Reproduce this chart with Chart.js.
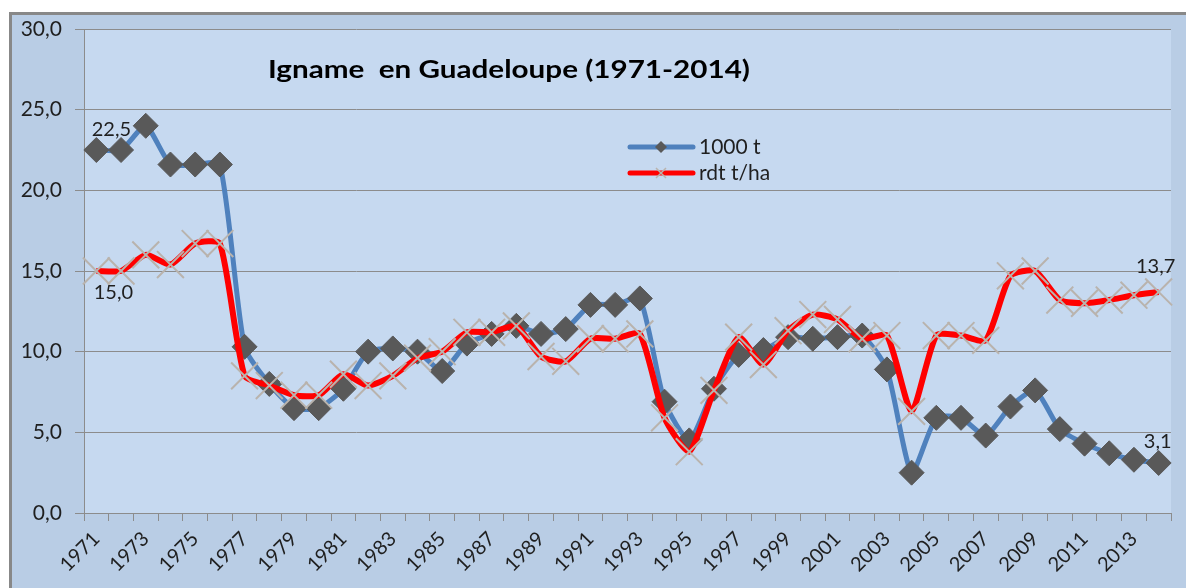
<!DOCTYPE html>
<html lang="fr">
<head>
<meta charset="UTF-8">
<title>Igname en Guadeloupe (1971-2014)</title>
<script src="https://cdn.jsdelivr.net/npm/chart.js@4.4.1/dist/chart.umd.min.js"></script>
<style>
  html, body { margin: 0; padding: 0; background: #ffffff; }
  #wrap { width: 1186px; height: 588px; }
</style>
</head>
<body>
<div id="wrap"><canvas id="yamChart" width="1186" height="588"></canvas></div>
<script>
// years (categories)
var years = ['1971','1972','1973','1974','1975','1976','1977','1978','1979','1980',
             '1981','1982','1983','1984','1985','1986','1987','1988','1989','1990',
             '1991','1992','1993','1994','1995','1996','1997','1998','1999','2000',
             '2001','2002','2003','2004','2005','2006','2007','2008','2009','2010',
             '2011','2012','2013','2014'];

// production, 1000 t
var tonnes = [22.5, 22.5, 24.0, 21.6, 21.6, 21.6, 10.3, 8.0, 6.5, 6.5,
              7.7, 10.0, 10.2, 10.0, 8.8, 10.5, 11.1, 11.6, 11.1, 11.4,
              12.9, 12.9, 13.3, 6.9, 4.5, 7.7, 9.8, 10.1, 10.9, 10.8,
              10.9, 11.0, 8.9, 2.5, 5.9, 5.9, 4.8, 6.6, 7.6, 5.2,
              4.3, 3.7, 3.3, 3.1];

// yield, t/ha
var yields = [15.0, 15.0, 16.0, 15.4, 16.7, 16.7, 8.5, 7.9, 7.3, 7.3,
              8.6, 7.9, 8.5, 9.6, 10.0, 11.2, 11.2, 11.6, 9.7, 9.4,
              10.8, 10.8, 11.1, 5.9, 3.8, 7.6, 10.9, 9.2, 11.3, 12.3,
              12.0, 10.8, 11.0, 6.3, 11.0, 11.0, 10.7, 14.7, 15.0, 13.2,
              13.0, 13.2, 13.5, 13.7];

var yTicks = [0, 5, 10, 15, 20, 25, 30];
var seriesNames = ['1000 t', 'rdt t/ha'];
var chartTitle = 'Igname  en Guadeloupe (1971-2014)';

function frNum(v) { return v.toFixed(1).replace('.', ','); }

var FONT = 'Lato, "Open Sans", sans-serif';
var GRID = '#8c8c8c';
var TEXT = '#1f1f1f';

var backgroundPlugin = {
    id: 'bg',
    beforeDraw: function(chart) {
        var c = chart.ctx, a = chart.chartArea;
        c.save();
        c.fillStyle = '#ffffff';
        c.fillRect(0, 0, chart.width, chart.height);
        c.fillStyle = '#b9cde5';
        c.fillRect(10, 12, chart.width - 10, chart.height - 12);
        c.fillStyle = '#888888';
        c.fillRect(9, 12, chart.width - 9, 3);
        c.fillRect(9, 12, 3, chart.height - 12);
        c.fillStyle = '#c6d9f0';
        c.fillRect(a.left, a.top, a.right - a.left, a.bottom - a.top);
        c.restore();
    }
};

// title, legend and value labels drawn inside the plot
var overlayPlugin = {
    id: 'overlay',
    afterDatasetsDraw: function(chart) {
        var c = chart.ctx;
        var xs = chart.scales.x, ys = chart.scales.y;
        c.save();

        // title, stretched a little to the width of the original
        c.fillStyle = '#000000';
        c.font = 'bold 25px ' + FONT;
        c.textBaseline = 'alphabetic';
        c.textAlign = 'left';
        var tw = c.measureText(chartTitle).width;
        c.save();
        c.translate(268, 78);
        c.scale(482 / tw, 1);
        c.fillText(chartTitle, 0, 0);
        c.restore();

        // legend
        c.lineCap = 'round';
        c.lineWidth = 5;
        c.strokeStyle = '#4f81bd';
        c.beginPath(); c.moveTo(630, 147); c.lineTo(693, 147); c.stroke();
        c.fillStyle = '#595959';
        c.beginPath();
        c.moveTo(655, 147); c.lineTo(661, 141); c.lineTo(667, 147); c.lineTo(661, 153);
        c.closePath(); c.fill();
        c.strokeStyle = '#ff0000';
        c.beginPath(); c.moveTo(630, 173); c.lineTo(693, 173); c.stroke();
        c.lineCap = 'butt';
        c.lineWidth = 1.5;
        c.strokeStyle = '#b9b3ad';
        c.beginPath();
        c.moveTo(656, 168); c.lineTo(666, 178);
        c.moveTo(666, 168); c.lineTo(656, 178);
        c.stroke();
        c.fillStyle = TEXT;
        c.font = '21px ' + FONT;
        c.textBaseline = 'middle';
        c.fillText(seriesNames[0], 699, 147);
        c.fillText(seriesNames[1], 699, 173);

        // value labels at first and last points
        var last = years.length - 1;
        c.textAlign = 'center';
        c.font = '20px ' + FONT;
        c.fillText(frNum(tonnes[0]), xs.getPixelForValue(0) + 15, ys.getPixelForValue(tonnes[0]) - 20);
        c.fillText(frNum(yields[0]), xs.getPixelForValue(0) + 17, ys.getPixelForValue(yields[0]) + 22);
        c.fillText(frNum(yields[last]), xs.getPixelForValue(last) - 3, ys.getPixelForValue(yields[last]) - 25);
        c.fillText(frNum(tonnes[last]), xs.getPixelForValue(last) - 1, ys.getPixelForValue(tonnes[last]) - 21);
        c.restore();
    }
};

var ctx = document.getElementById('yamChart');
var yamChart = new Chart(ctx, {
    type: 'line',
    data: {
        labels: years,
        datasets: [
            {
                label: seriesNames[0],
                data: tonnes,
                borderColor: '#4f81bd',
                borderWidth: 5,
                tension: 0.2,
                pointStyle: 'rectRot',
                pointRadius: 12.5,
                pointBackgroundColor: '#595959',
                pointBorderColor: '#595959',
                pointBorderWidth: 1,
                order: 2
            },
            {
                label: seriesNames[1],
                data: yields,
                borderColor: '#ff0000',
                borderWidth: 6,
                tension: 0.2,
                pointStyle: 'crossRot',
                pointRadius: 19,
                pointBorderColor: '#b9b3ad',
                pointBorderWidth: 2,
                order: 1
            }
        ]
    },
    options: {
        responsive: false,
        animation: false,
        layout: { autoPadding: false, padding: { left: 10, top: 29, right: 15, bottom: 0 } },
        plugins: {
            legend: { display: false },
            tooltip: { enabled: false }
        },
        scales: {
            x: {
                offset: true,
                grid: { offset: true, drawOnChartArea: false, color: GRID, tickLength: 8 },
                border: { color: GRID, width: 1 },
                ticks: {
                    autoSkip: false,
                    maxRotation: 45,
                    minRotation: 45,
                    padding: 6,
                    color: TEXT,
                    font: { family: FONT, size: 20 },
                    callback: function(v, i) { return i % 2 === 0 ? years[i] : ''; }
                },
                afterFit: function(s) { s.height = 75; s.paddingLeft = 0; s.paddingRight = 0; }
            },
            y: {
                min: 0,
                max: 30,
                afterBuildTicks: function(s) { s.ticks = yTicks.map(function(v) { return { value: v }; }); },
                grid: { color: GRID, tickLength: 9 },
                border: { color: GRID, width: 1 },
                ticks: {
                    padding: 13,
                    color: TEXT,
                    font: { family: FONT, size: 21 },
                    callback: function(v) { return frNum(v); }
                },
                afterFit: function(s) { s.width = 74; }
            }
        }
    },
    plugins: [backgroundPlugin, overlayPlugin]
});
</script>
</body>
</html>
